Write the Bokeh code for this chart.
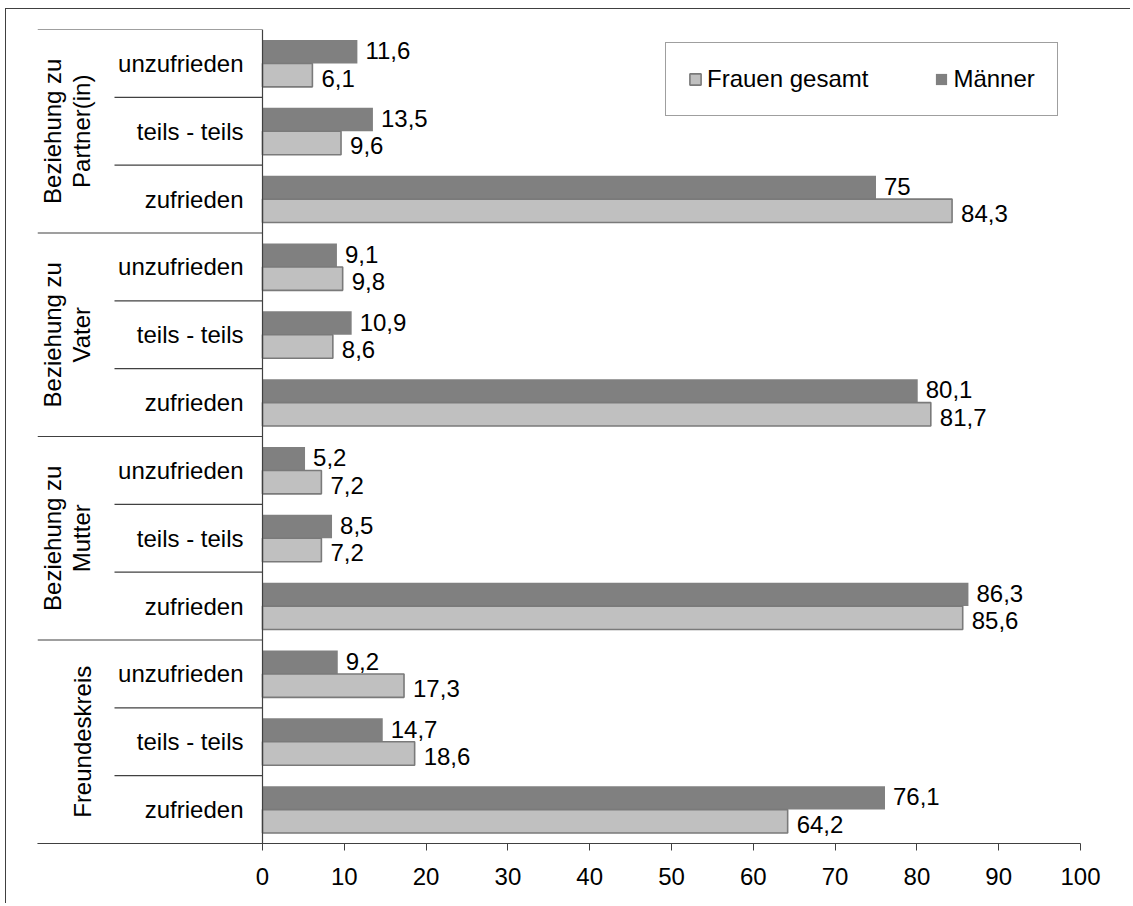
import math
from bokeh.plotting import figure
from bokeh.models import ColumnDataSource, Range1d, FixedTicker, Span, Legend, LegendItem
from bokeh.core.properties import value
from bokeh.transform import dodge
from bokeh.embed import file_html
from bokeh.resources import INLINE

# ---------------- data ----------------
groups = ["Beziehung zu\nPartner(in)", "Beziehung zu\nVater", "Beziehung zu\nMutter", "Freundeskreis"]
levels = ["unzufrieden", "teils - teils", "zufrieden"]
maenner = [11.6, 13.5, 75.0, 9.1, 10.9, 80.1, 5.2, 8.5, 86.3, 9.2, 14.7, 76.1]
frauen = [6.1, 9.6, 84.3, 9.8, 8.6, 81.7, 7.2, 7.2, 85.6, 17.3, 18.6, 64.2]
series_names = ["Frauen gesamt", "Männer"]
x_ticks = [0, 10, 20, 30, 40, 50, 60, 70, 80, 90, 100]

# ---------------- layout constants (px) ----------------
FONT = value("Liberation Sans")
FS = "24px"
FRAME_W = 1043
LABEL_AREA_PX = 225          # from frame left to value axis (x=0)
SUB_LINE_PX = 148            # length of sub-category separators left of axis
x_max = x_ticks[-1]
PX = (FRAME_W - LABEL_AREA_PX) / x_max
x_min = -LABEL_AREA_PX / PX

n_lv = len(levels)
n_rows = len(groups) * n_lv
row_y = [n_rows - i - 0.5 for i in range(n_rows)]
sub_labels = [levels[i % n_lv] for i in range(n_rows)]


def fmt(v):
    return ("%g" % v).replace(".", ",")


src = ColumnDataSource(dict(
    y=row_y, m=maenner, f=frauen,
    m_lab=[fmt(v) for v in maenner], f_lab=[fmt(v) for v in frauen],
    sub=sub_labels,
))

p = figure(width=1125, height=895, x_range=Range1d(x_min, x_max), y_range=Range1d(0, n_rows),
           output_backend="svg", toolbar_location=None, y_axis_location=None, title=None,
           min_border_left=31, min_border_right=51, min_border_top=20, min_border_bottom=61)
p.styles = {"margin-left": "5px", "margin-top": "8px",
            "border-left": "1px solid #404040", "border-top": "1px solid #404040"}
p.outline_line_color = None
p.xgrid.visible = False
p.ygrid.visible = False
p.background_fill_color = "white"
p.border_fill_color = "white"

BAR_H = 0.345
OFF = 0.173
rm = p.hbar(y=dodge("y", OFF, range=p.y_range), left=0, right="m", height=BAR_H,
            fill_color="#808080", line_color=None, source=src)
rf = p.hbar(y=dodge("y", -OFF, range=p.y_range), left=0, right="f", height=BAR_H,
            fill_color="#c0c0c0", line_color="#7a7a7a", line_width=1.6, source=src)

# value labels
p.text(x="m", y=dodge("y", OFF, range=p.y_range), text="m_lab", x_offset=8, y_offset=-1,
       text_baseline="middle", text_align="left", text_font=FONT, text_font_size=FS,
       text_color="black", source=src)
p.text(x="f", y=dodge("y", -OFF, range=p.y_range), text="f_lab", x_offset=9, y_offset=3,
       text_baseline="middle", text_align="left", text_font=FONT, text_font_size=FS,
       text_color="black", source=src)

# sub-category labels
p.text(x=0, y="y", text="sub", x_offset=-19, text_align="right", text_baseline="middle",
       text_font=FONT, text_font_size=FS, text_color="black", source=src)

# group labels (rotated)
g_src = ColumnDataSource(dict(
    y=[n_rows - (g * n_lv + n_lv / 2) for g in range(len(groups))],
    t=groups,
))
p.text(x=0, y="y", text="t", angle=math.pi / 2, x_offset=-167, text_align="center",
       text_baseline="bottom", text_font=FONT, text_font_size=FS, text_color="black",
       text_line_height=1.1, source=g_src)

# separators
g_bounds = [g * n_lv for g in range(len(groups) + 1)]
s_bounds = [g * n_lv + k for g in range(len(groups)) for k in range(1, n_lv)]
p.segment(x0=[x_min] * len(g_bounds), x1=[0] * len(g_bounds), y0=g_bounds, y1=g_bounds,
          line_color="#404040", line_width=1.2)
p.segment(x0=[-SUB_LINE_PX / PX] * len(s_bounds), x1=[0] * len(s_bounds), y0=s_bounds, y1=s_bounds,
          line_color="#404040", line_width=1.2)
p.add_layout(Span(location=0, dimension="height", line_color="#404040", line_width=1.2))

# x axis
ax = p.xaxis[0]
ax.ticker = FixedTicker(ticks=x_ticks)
ax.major_tick_in = 0
ax.major_tick_out = 7
ax.minor_tick_out = 0
ax.minor_tick_in = 0
ax.axis_line_color = "#404040"
ax.major_tick_line_color = "#404040"
ax.major_label_text_font = "Liberation Sans"
ax.major_label_text_font_size = FS
ax.major_label_text_color = "black"
ax.major_label_standoff = 17

legend = Legend(items=[LegendItem(label=series_names[0], renderers=[rf]),
                       LegendItem(label=series_names[1], renderers=[rm])],
                orientation="horizontal", location=(628, 727), padding=22, spacing=66,
                glyph_width=14, glyph_height=14, label_standoff=5, margin=0,
                border_line_color="#404040", border_line_width=1,
                label_text_font="Liberation Sans", label_text_font_size=FS, label_text_color="black")
p.add_layout(legend)

open("out.html", "w").write(file_html(p, INLINE))
